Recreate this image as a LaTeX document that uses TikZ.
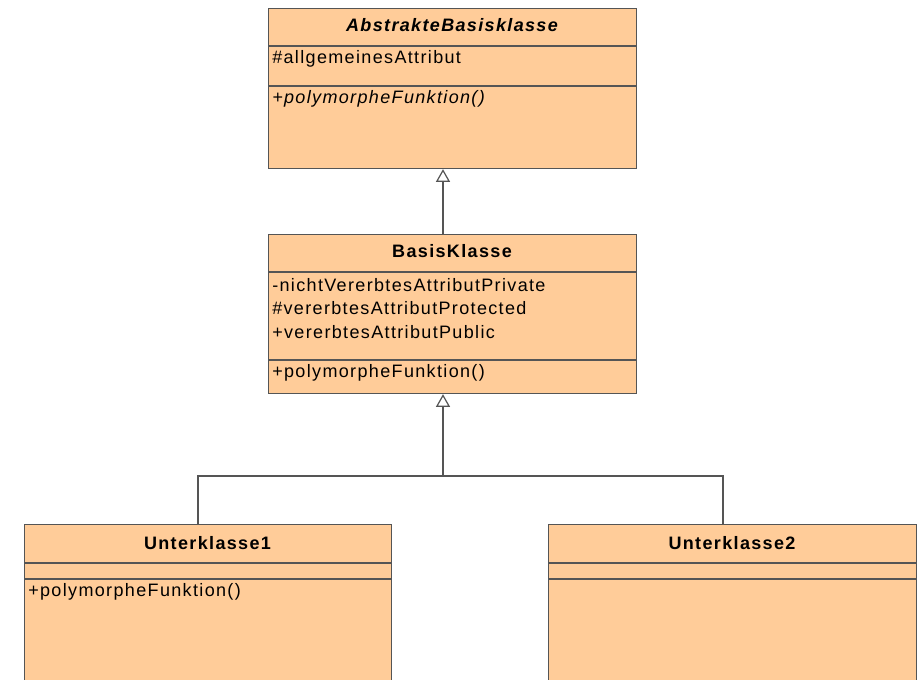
\documentclass[tikz,border=0pt]{standalone}
\usepackage{fontspec}
\setmainfont{Liberation Sans}[LetterSpace=7.5]
\usetikzlibrary{arrows.meta}
\definecolor{classfill}{RGB}{255,204,153}
\definecolor{classline}{RGB}{85,85,85}
\tikzset{
  px/.style={x=0.75pt,y=-0.75pt},
  classbox/.style={draw=classline,fill=classfill,line width=0.9pt,inner sep=0pt,anchor=north west},
  sep/.style={draw=classline,line width=0.9pt},
  title/.style={font=\fontsize{13.5}{15}\selectfont\bfseries,inner sep=0pt,anchor=center},
  member/.style={font=\fontsize{13.5}{15}\selectfont,inner sep=0pt,anchor=west},
  inherit/.style={draw=classline,line width=0.9pt,-{Triangle[open,length=9.5pt,width=10.5pt,fill=white]}},
  wire/.style={draw=classline,line width=0.9pt}
}
\begin{document}
\begin{tikzpicture}[px]
\clip (0,0) rectangle (917,680);
\fill[white] (0,0) rectangle (917,680);

% abstract base class
\node[classbox,minimum width=276pt,minimum height=120pt] (abs) at (268,8) {};
\draw[sep] (268,46) -- (636,46);
\draw[sep] (268,86) -- (636,86);
\node[title,font=\fontsize{13.5}{15}\selectfont\bfseries\itshape] (absT) at (452,25) {AbstrakteBasisklasse};
\node[member] (absA) at (272,59) {\#allgemeinesAttribut};
\node[member,font=\fontsize{13.5}{15}\selectfont\itshape] (absM) at (272,99) {+polymorpheFunktion()};

% base class
\node[classbox,minimum width=276pt,minimum height=119.25pt] (bas) at (268,234) {};
\draw[sep] (268,272) -- (636,272);
\draw[sep] (268,360) -- (636,360);
\node[title] (basT) at (452,251) {BasisKlasse};
\node[member] (basA1) at (272,285) {-nichtVererbtesAttributPrivate};
\node[member] (basA2) at (272,308) {\#vererbtesAttributProtected};
\node[member] (basA3) at (272,332) {+vererbtesAttributPublic};
\node[member] (basM) at (272,373) {+polymorpheFunktion()};

% subclasses
\node[classbox,minimum width=275.25pt,minimum height=150pt] (sub1) at (24,524) {};
\draw[sep] (24,563) -- (391,563);
\draw[sep] (24,579) -- (391,579);
\node[title] (sub1T) at (207.5,543) {Unterklasse1};
\node[member] (sub1M) at (28,592) {+polymorpheFunktion()};

\node[classbox,minimum width=276pt,minimum height=150pt] (sub2) at (548,524) {};
\draw[sep] (548,563) -- (916,563);
\draw[sep] (548,579) -- (916,579);
\node[title] (sub2T) at (732,543) {Unterklasse2};

% generalisation connectors
\draw[inherit] (bas.north -| 443,0) -- (abs.south -| 443,0);
\coordinate (join) at (443,476);
\draw[wire] (sub1.north -| 198,0) |- (join);
\draw[wire] (sub2.north -| 723,0) |- (join);
\draw[inherit] (join) -- (bas.south -| 443,0);
\end{tikzpicture}
\end{document}
